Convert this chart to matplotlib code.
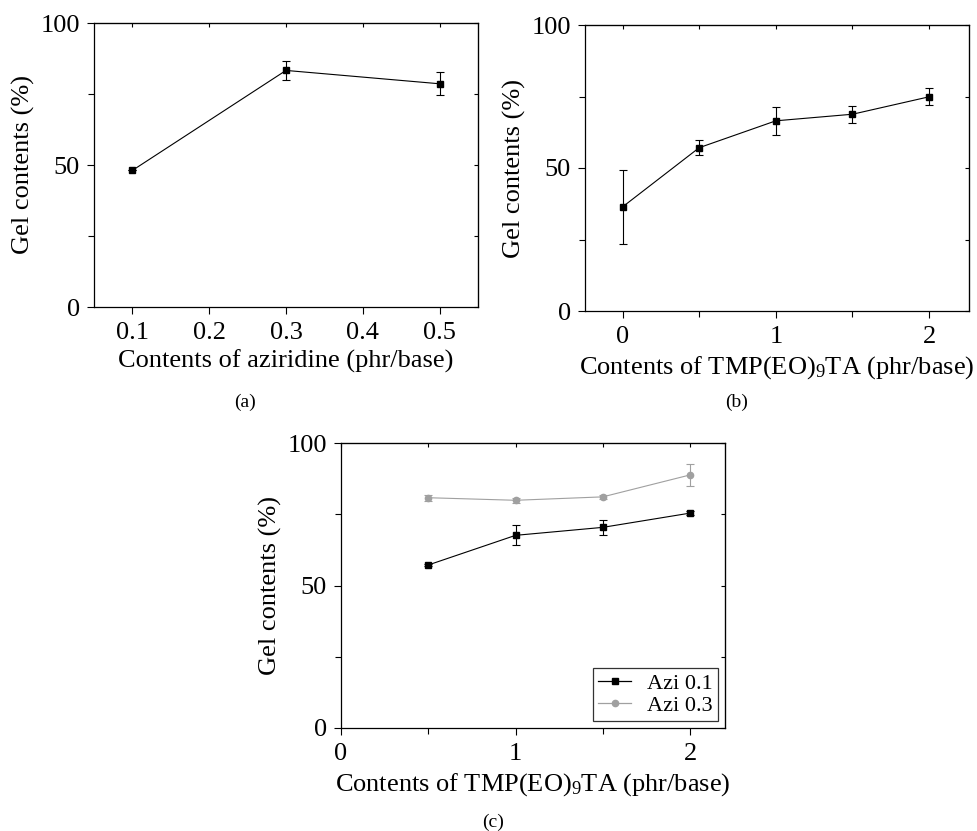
import matplotlib
matplotlib.use("Agg")
import matplotlib.pyplot as plt
from matplotlib.ticker import FixedLocator
from matplotlib.lines import Line2D

plt.rcParams['font.family'] = ['Liberation Serif', 'DejaVu Serif']
plt.rcParams['mathtext.fontset'] = 'custom'
plt.rcParams['mathtext.rm'] = 'Liberation Serif'
plt.rcParams['mathtext.it'] = 'Liberation Serif:italic'

# Panel (a)
azi_x = [0.1, 0.3, 0.5]
azi_y = [48.1, 83.3, 78.6]
azi_err = [0.0, 3.2, 4.1]

# Panel (b)
tmp_x = [0, 0.5, 1.0, 1.5, 2.0]
tmp_y = [36.4, 57.1, 66.5, 68.8, 74.9]
tmp_err = [13.0, 2.6, 5.0, 3.0, 3.0]

# Panel (c)
c_x = [0.5, 1.0, 1.5, 2.0]
azi01_y = [57.2, 67.6, 70.4, 75.4]
azi01_err = [0.5, 3.5, 2.6, 0.8]
azi03_y = [80.8, 79.9, 81.1, 88.8]
azi03_err = [1.0, 0.8, 0.6, 4.0]
series_labels = ['Azi 0.1', 'Azi 0.3']

ylabel = "Gel contents (%)"
xlabel_a = "Contents of aziridine (phr/base)"
xlabel_bc = r"Contents of TMP(EO)$_9$TA (phr/base)"

GRAY = '#a0a0a0'
FS = 19

W, H = 977, 831
fig = plt.figure(figsize=(W / 100, H / 100), dpi=100)


def make_ax(l, r, t, b):
    return fig.add_axes([l / W, (H - b) / H, (r - l) / W, (b - t) / H])


def style(ax, xlim, xmajor, xminor, xlabels):
    ax.set_xlim(*xlim)
    ax.set_ylim(0, 100)
    ax.xaxis.set_major_locator(FixedLocator(xmajor))
    ax.set_xticklabels(xlabels)
    if xminor:
        ax.xaxis.set_minor_locator(FixedLocator(xminor))
    ax.yaxis.set_major_locator(FixedLocator([0, 50, 100]))
    ax.yaxis.set_minor_locator(FixedLocator([25, 75]))
    ax.tick_params(which='major', direction='out', length=5, width=0.8,
                   labelsize=FS, top=False, right=False)
    ax.tick_params(axis='x', which='major', pad=6)
    ax.tick_params(axis='y', which='major', pad=5)
    ax.tick_params(which='minor', direction='out', length=4, width=0.8,
                   top=False, right=False)
    for s in ax.spines.values():
        s.set_linewidth(0.9)
    sx = ax.secondary_xaxis('top')
    sx.xaxis.set_major_locator(FixedLocator(xmajor))
    if xminor:
        sx.xaxis.set_minor_locator(FixedLocator(xminor))
    sx.tick_params(which='both', direction='in', length=3, width=0.8, labeltop=False)
    sy = ax.secondary_yaxis('right')
    sy.yaxis.set_major_locator(FixedLocator([0, 50, 100]))
    sy.yaxis.set_minor_locator(FixedLocator([25, 75]))
    sy.tick_params(which='both', direction='in', length=3, width=0.8, labelright=False)
    ax.set_ylabel(ylabel, fontsize=FS, labelpad=4)


eb = dict(markersize=4.5, linewidth=0.8, capsize=3, elinewidth=0.8, capthick=0.8)

# (a)
ax1 = make_ax(94, 478, 23, 307)
ax1.errorbar(azi_x, azi_y, yerr=azi_err, color='black', marker='s', **eb)
style(ax1, (0.05, 0.55), [0.1, 0.2, 0.3, 0.4, 0.5], None,
      ['0.1', '0.2', '0.3', '0.4', '0.5'])
ax1.set_xlabel(xlabel_a, fontsize=FS, labelpad=4)
fig.text(245 / W, 1 - 402 / H, "(a)", ha='center', va='center', fontsize=14)

# (b)
ax2 = make_ax(585, 969, 25, 311)
ax2.errorbar(tmp_x, tmp_y, yerr=tmp_err, color='black', marker='s', **eb)
style(ax2, (-0.245, 2.26), [0, 1, 2], [0.5, 1.5], ['0', '1', '2'])
ax2.set_xlabel(xlabel_bc, fontsize=FS, labelpad=4)
fig.text(737 / W, 1 - 402 / H, "(b)", ha='center', va='center', fontsize=14)

# (c)
ax3 = make_ax(341, 725, 443, 728)
ax3.errorbar(c_x, azi01_y, yerr=azi01_err, color='black', marker='s', **eb)
ax3.errorbar(c_x, azi03_y, yerr=azi03_err, color=GRAY, marker='o', **eb)
style(ax3, (0, 2.2), [0, 1, 2], [0.5, 1.5], ['0', '1', '2'])
ax3.set_xlabel(xlabel_bc, fontsize=FS, labelpad=4)
handles = [Line2D([], [], color='black', marker='s', markersize=4.5, linewidth=0.9),
           Line2D([], [], color=GRAY, marker='o', markersize=4.5, linewidth=0.9)]
leg = ax3.legend(handles, series_labels, loc='lower right', fontsize=16, frameon=True,
                 fancybox=False, edgecolor='black', handlelength=1.5, borderpad=0.25,
                 labelspacing=0.05, handletextpad=0.7, borderaxespad=0.3)
leg.get_frame().set_linewidth(0.9)
fig.text(493 / W, 1 - 822 / H, "(c)", ha='center', va='center', fontsize=14)

fig.savefig("out.png", dpi=100)
